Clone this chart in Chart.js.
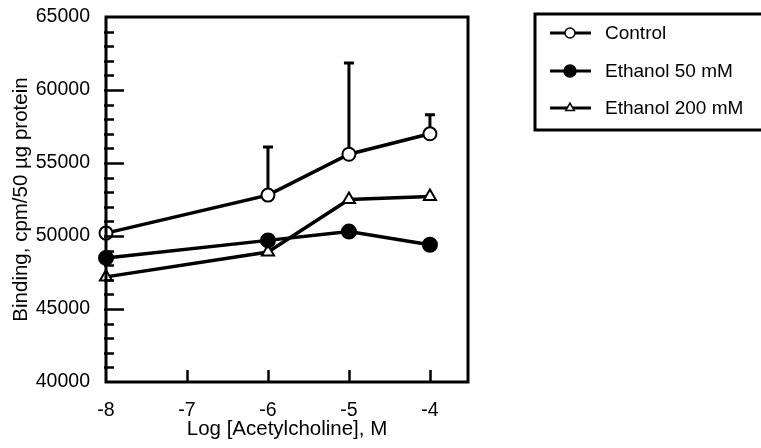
<!DOCTYPE html>
<html>
<head>
<meta charset="utf-8">
<script src="https://cdn.jsdelivr.net/npm/chart.js@4/dist/chart.umd.min.js"></script>
<style>
  html, body { margin: 0; padding: 0; background: #fff; }
  #wrap { width: 761px; height: 448px; }
</style>
</head>
<body>
<div id="wrap"><canvas id="c" width="761" height="448"></canvas></div>
<script>
// log molar acetylcholine concentrations
const logConc = [-8, -6, -5, -4];
const xTickValues = [-8, -7, -6, -5, -4];

// binding, cpm / 50 µg protein
const controlBinding = [50200, 52800, 55600, 57000];
const controlError   = [0, 3300, 6250, 1300];
const ethanol50Binding  = [48500, 49700, 50300, 49400];
const ethanol200Binding = [47200, 48900, 52500, 52700];

const seriesLabels = ['Control', 'Ethanol 50 mM', 'Ethanol 200 mM'];

const FONT = '"Liberation Sans", Arial, Helvetica, sans-serif';

const toPoints = vals => logConc.map((x, i) => ({ x: x, y: vals[i] }));

// upper-only error bars with a small cap
const errorBars = {
  id: 'errorBars',
  beforeDatasetsDraw(chart) {
    const ctx = chart.ctx;
    const xs = chart.scales.x, ys = chart.scales.y;
    chart.data.datasets.forEach(ds => {
      if (!ds.errors) return;
      ctx.save();
      ctx.strokeStyle = '#000';
      ctx.lineWidth = 3;
      ds.data.forEach((p, i) => {
        const e = ds.errors[i];
        if (!e) return;
        const px = xs.getPixelForValue(p.x);
        const y0 = ys.getPixelForValue(p.y);
        const y1 = ys.getPixelForValue(p.y + e);
        ctx.beginPath();
        ctx.moveTo(px, y0);
        ctx.lineTo(px, y1);
        ctx.moveTo(px - 5, y1);
        ctx.lineTo(px + 5, y1);
        ctx.stroke();
      });
      ctx.restore();
    });
  }
};

// plot frame with inward tick marks
const frame = {
  id: 'frame',
  afterDatasetsDraw(chart) {
    const ctx = chart.ctx;
    const a = chart.chartArea;
    const xs = chart.scales.x, ys = chart.scales.y;
    ctx.save();
    ctx.strokeStyle = '#000';
    ctx.lineWidth = 3;
    ctx.strokeRect(a.left, a.top, a.right - a.left, a.bottom - a.top);
    ctx.lineWidth = 2.5;
    ctx.beginPath();
    for (let v = ys.min + 1000; v < ys.max; v += 1000) {
      const py = Math.round(ys.getPixelForValue(v)) + 0.5;
      const len = (v % 5000 === 0) ? 18 : 8;
      ctx.moveTo(a.left - 2, py);
      ctx.lineTo(a.left + len, py);
    }
    xTickValues.forEach(v => {
      if (v === xs.min) return;
      const px = Math.round(xs.getPixelForValue(v)) + 0.5;
      ctx.moveTo(px, a.bottom);
      ctx.lineTo(px, a.bottom - 12);
    });
    ctx.stroke();
    ctx.restore();
  }
};

// boxed legend to the right of the plot
const boxLegend = {
  id: 'boxLegend',
  afterDraw(chart) {
    const ctx = chart.ctx;
    const left = 535, top = 14, bottom = 130;
    const rows = [33, 71, 108];
    ctx.save();
    ctx.strokeStyle = '#000';
    ctx.lineWidth = 3;
    ctx.beginPath();
    ctx.moveTo(chart.width + 5, top);
    ctx.lineTo(left, top);
    ctx.lineTo(left, bottom);
    ctx.lineTo(chart.width + 5, bottom);
    ctx.stroke();
    chart.data.datasets.forEach((ds, i) => {
      const y = rows[i];
      ctx.strokeStyle = '#000';
      ctx.lineWidth = 3;
      ctx.beginPath();
      ctx.moveTo(550, y);
      ctx.lineTo(591, y);
      ctx.stroke();
      ctx.fillStyle = ds.pointBackgroundColor;
      ctx.strokeStyle = '#000';
      ctx.lineWidth = 1.5;
      const r = ds.pointBackgroundColor === '#000' ? 6 : 5;
      Chart.helpers.drawPoint(ctx, {
        pointStyle: ds.pointStyle, radius: r, rotation: 0, borderWidth: 1.5
      }, 570, y);
      ctx.fillStyle = '#000';
      ctx.font = '19px ' + FONT;
      ctx.textBaseline = 'middle';
      ctx.textAlign = 'left';
      ctx.fillText(ds.label, 605, y + 1);
    });
    ctx.restore();
  }
};

const baseSeries = {
  borderColor: '#000',
  borderWidth: 3.5,
  pointBorderColor: '#000',
  pointBorderWidth: 2,
  pointRadius: 6.5,
  pointHoverRadius: 6.5,
  showLine: true,
  tension: 0,
  clip: false
};

new Chart(document.getElementById('c'), {
  type: 'scatter',
  data: {
    datasets: [
      Object.assign({}, baseSeries, {
        label: seriesLabels[0],
        data: toPoints(controlBinding),
        errors: controlError,
        pointStyle: 'circle',
        pointBackgroundColor: '#fff'
      }),
      Object.assign({}, baseSeries, {
        label: seriesLabels[1],
        data: toPoints(ethanol50Binding),
        pointStyle: 'circle',
        pointRadius: 7,
        pointBackgroundColor: '#000'
      }),
      Object.assign({}, baseSeries, {
        label: seriesLabels[2],
        data: toPoints(ethanol200Binding),
        pointStyle: 'triangle',
        pointRadius: 7,
        pointBorderWidth: 2,
        pointBackgroundColor: '#fff'
      })
    ]
  },
  options: {
    responsive: false,
    animation: false,
    events: [],
    layout: { padding: { left: 0, top: 17, right: 293, bottom: 0 } },
    plugins: { legend: { display: false }, tooltip: { enabled: false } },
    scales: {
      x: {
        type: 'linear',
        min: -8,
        max: -3.53,
        afterBuildTicks: s => { s.ticks = xTickValues.map(v => ({ value: v })); },
        afterFit: s => {
          s.height = 66;
          s.paddingLeft = 0;
          s.paddingRight = 0;
        },
        grid: { display: false, drawTicks: false },
        border: { display: false },
        ticks: {
          autoSkip: false,
          maxRotation: 0,
          padding: 17,
          color: '#000',
          font: { family: FONT, size: 19.5 },
          callback: v => String(v)
        },
        title: {
          display: true,
          text: 'Log [Acetylcholine], M',
          color: '#000',
          font: { family: FONT, size: 20.5 },
          padding: { top: 0, bottom: 6 }
        }
      },
      y: {
        type: 'linear',
        min: 40000,
        max: 65000,
        afterFit: s => {
          s.width = 106;
          s.paddingTop = 0;
          s.paddingBottom = 0;
        },
        grid: { display: false, drawTicks: false },
        border: { display: false },
        ticks: {
          stepSize: 5000,
          autoSkip: false,
          padding: 16,
          color: '#000',
          font: { family: FONT, size: 19.5 },
          callback: v => String(v)
        },
        title: {
          display: true,
          text: 'Binding, cpm/50 µg protein',
          color: '#000',
          font: { family: FONT, size: 20.5 },
          padding: { top: 9, bottom: 0 }
        }
      }
    }
  },
  plugins: [errorBars, frame, boxLegend]
});
</script>
</body>
</html>
